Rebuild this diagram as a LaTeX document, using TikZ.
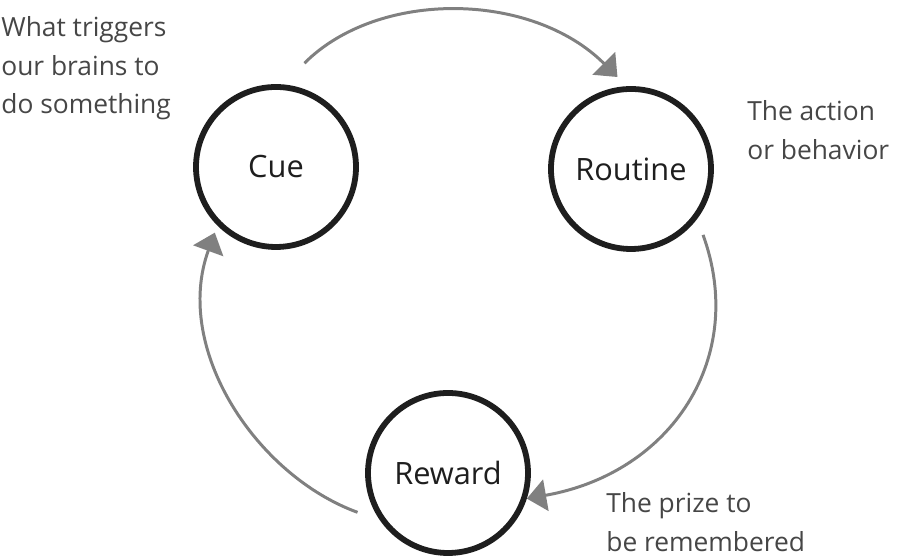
\documentclass[tikz,border=0pt]{standalone}
\usepackage{fontspec}
\setmainfont{Open Sans}
\usetikzlibrary{arrows.meta, positioning}
\definecolor{inkgray}{HTML}{464646}
\definecolor{arrgray}{HTML}{808080}
\definecolor{ringblack}{HTML}{1E1E1E}

\begin{document}
\begin{tikzpicture}[
  ring/.style={circle, draw=ringblack, line width=3.3pt, fill=white,
               minimum size=3.2cm, inner sep=0pt, text=ringblack,
               font=\fontsize{17.5}{20}\selectfont},
  note/.style={align=left, inner sep=0pt, text=inkgray,
               font=\fontsize{15}{22}\selectfont},
  arr/.style={-{Triangle[length=11pt, width=18pt]}, line width=1.7pt,
              draw=arrgray}
]
\useasboundingbox (0,0) rectangle (18,11.18);

% the three stages of the loop
\node[ring] (cue)     at (5.52,7.84)  {Cue};
\node[ring] (routine) at (12.62,7.80) {Routine};
\node[ring] (reward)  at (8.96,1.72)  {Reward};

% notes beside each stage
\node[note, anchor=north west] (trig)  at (0.02,10.86) {What triggers\\our brains to\\do something};
\node[note, anchor=north west] (act)   at (14.94,9.18) {The action\\or behavior};
\node[note, anchor=north west] (prize) at (12.12,1.34) {The prize to\\be remembered};

% the loop
\draw[arr, shorten <=0.6cm, shorten >=0.26cm] (cue.85) to[out=45, in=135] (routine.93);
\draw[arr, shorten <=0.34cm] (routine.-37) to[out=-70, in=10, looseness=1.15] (reward.-18);
\draw[arr, shorten <=0.48cm, shorten >=0.15cm] (reward.215) to[out=160, in=-110] (cue.225);

\end{tikzpicture}
\end{document}
